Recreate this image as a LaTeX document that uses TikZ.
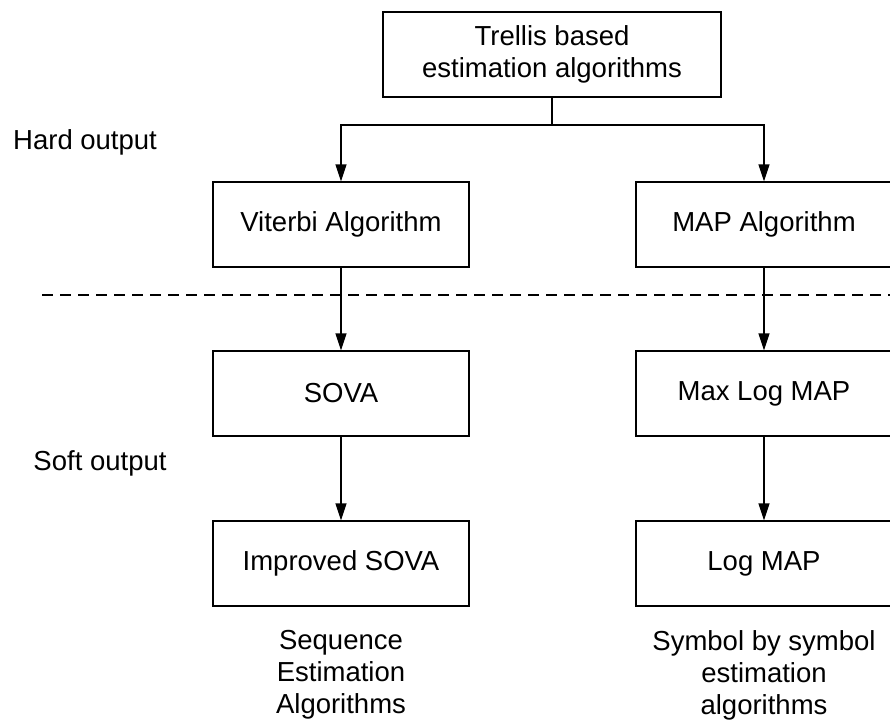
\documentclass[tikz,border=0pt]{standalone}
\usepackage{fontspec}
\setmainfont{Liberation Sans}
\usetikzlibrary{arrows.meta}
\begin{document}
\begin{tikzpicture}[x=1pt,y=-1pt,
  every node/.style={font=\fontsize{27.5}{32}\selectfont},
  algbox/.style={draw, line width=1.3pt, minimum width=256pt, minimum height=85pt, inner sep=0pt, align=center},
  link/.style={draw, line width=1.3pt},
  arrowlink/.style={link, -{Triangle[length=17pt,width=11pt]}},
  caption/.style={align=center, inner sep=0pt}]
  \useasboundingbox (0,0) rectangle (890,723);

  % root of the family tree
  \node[algbox, minimum width=338pt] (root) at (552,54.5) {Trellis based\\estimation algorithms};

  % hard output algorithms
  \node[algbox] (viterbi) at (341,224.5) {Viterbi Algorithm};
  \node[algbox] (map) at (764,224.5) {MAP Algorithm};

  % soft output algorithms
  \node[algbox] (sova) at (341,393.5) {SOVA};
  \node[algbox] (maxlog) at (764,393.5) {Max Log MAP};
  \node[algbox] (isova) at (341,563.5) {Improved SOVA};
  \node[algbox] (logmap) at (764,563.5) {Log MAP};

  % side and column labels
  \node[anchor=west, inner sep=0pt] (hard) at (13,142) {Hard output};
  \node[inner sep=0pt] (soft) at (100,463) {Soft output};
  \node[caption] (seqlabel) at (341,675) {Sequence\\Estimation\\Algorithms};
  \node[caption] (symlabel) at (764,675) {Symbol by symbol\\estimation\\algorithms};

  % boundary between hard and soft output
  \coordinate (dashL) at (42,295);
  \coordinate (dashR) at (890,295);
  \draw[line width=1.3pt, dash pattern=on 11pt off 7pt] (dashL) -- (dashR);

  % branching from the root
  \coordinate (fork) at (root.south |- 0,125);
  \draw[link] (root.south) -- (fork);
  \draw[arrowlink] (fork) -| (viterbi.north);
  \draw[arrowlink] (fork) -| (map.north);

  % refinements down each column
  \draw[arrowlink] (viterbi) -- (sova);
  \draw[arrowlink] (sova) -- (isova);
  \draw[arrowlink] (map) -- (maxlog);
  \draw[arrowlink] (maxlog) -- (logmap);
\end{tikzpicture}
\end{document}
